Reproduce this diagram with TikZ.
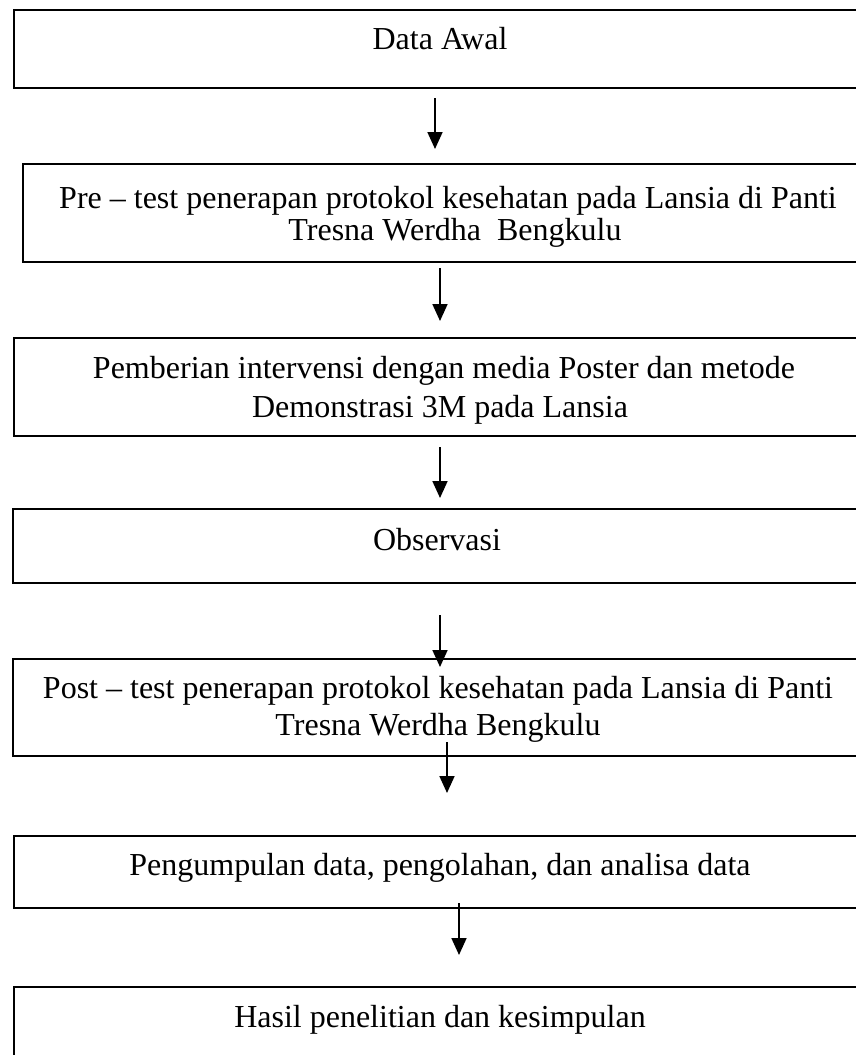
\documentclass[tikz,border=0pt]{standalone}
\usepackage{fontspec}
\setmainfont{Liberation Serif}
\usetikzlibrary{arrows.meta}
\begin{document}
\begin{tikzpicture}[x=1pt,y=-1pt,
  box/.style={draw=black,line width=2pt,inner sep=0pt,anchor=north west},
  lbl/.style={inner sep=0pt,anchor=base,font=\fontsize{32}{38}\selectfont},
  flow/.style={line width=1.8pt,-{Triangle[width=15pt,length=17pt]}}]
\useasboundingbox (0,0) rectangle (856,1055);
\clip (0,0) rectangle (856,1055);
% boxes
\node[box,minimum width=857pt,minimum height=78pt] (b1) at (13,9) {};
\node[box,minimum width=850pt,minimum height=98pt] (b2) at (22,163) {};
\node[box,minimum width=858pt,minimum height=98pt] (b3) at (13,337) {};
\node[box,minimum width=859pt,minimum height=74pt] (b4) at (12,508) {};
\node[box,minimum width=859pt,minimum height=97pt] (b5) at (12,658) {};
\node[box,minimum width=858pt,minimum height=72pt] (b6) at (13,835) {};
\node[box,minimum width=858pt,minimum height=100pt] (b7) at (13,986) {};
% texts (placed by baseline)
\node[lbl] (t1) at (440,49) {Data Awal};
\node[lbl] (t2a) at (448,208) {Pre -- test penerapan protokol kesehatan pada Lansia di Panti};
\node[lbl] (t2b) at (455,240) {Tresna Werdha\ \ Bengkulu};
\node[lbl] (t3a) at (444,378) {Pemberian intervensi dengan media Poster dan metode};
\node[lbl] (t3b) at (440,417) {Demonstrasi 3M pada Lansia};
\node[lbl] (t4) at (437,550) {Observasi};
\node[lbl] (t5a) at (438,698) {Post -- test penerapan protokol kesehatan pada Lansia di Panti};
\node[lbl] (t5b) at (438,735) {Tresna Werdha Bengkulu};
\node[lbl] (t6) at (440,875) {Pengumpulan data, pengolahan, dan analisa data};
\node[lbl] (t7) at (440,1027) {Hasil penelitian dan kesimpulan};
% arrow ends
\coordinate (a1s) at (435,98);  \coordinate (a1e) at (435,149);
\coordinate (a2s) at (440,268); \coordinate (a2e) at (440,321);
\coordinate (a3s) at (440,447); \coordinate (a3e) at (440,498);
\coordinate (a4s) at (440,615); \coordinate (a4e) at (440,667);
\coordinate (a5s) at (447,742); \coordinate (a5e) at (447,793);
\coordinate (a6s) at (459,903); \coordinate (a6e) at (459,955);
\draw[flow] (a1s) -- (a1e);
\draw[flow] (a2s) -- (a2e);
\draw[flow] (a3s) -- (a3e);
\draw[flow] (a4s) -- (a4e);
\draw[flow] (a5s) -- (a5e);
\draw[flow] (a6s) -- (a6e);
\end{tikzpicture}
\end{document}
